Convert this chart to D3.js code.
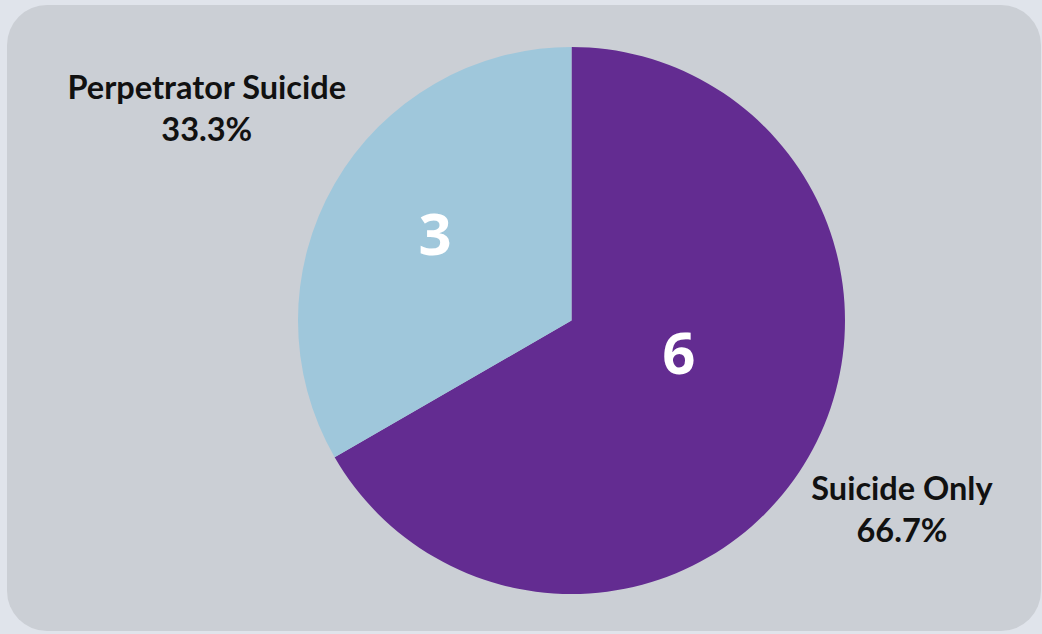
<!DOCTYPE html>
<html>
<head>
<meta charset="utf-8">
<script src="https://cdn.jsdelivr.net/npm/d3@7"></script>
<style>
  body { margin: 0; background: #e0e4eb; }
  svg { display: block; }
</style>
</head>
<body>
<div id="chart"></div>
<script>
const categories = ["Suicide Only", "Perpetrator Suicide"];
const counts = [6, 3];
const colors = ["#632c91", "#9fc7db"];

const width = 1042, height = 634;
const cx = 571.5, cy = 320.5, radius = 273.5;

// label spots, as distance from centre over radius (inside count, outside name)
const countDist = [0.41, 0.59];
const countAngleShift = [-0.23, 0.04];
const nameDist = [1.395, 1.54];

var svg = d3.select("#chart").append("svg")
        .attr("width", width)
        .attr("height", height);

svg.append("rect")
    .attr("x", 7).attr("y", 5)
    .attr("width", 1034).attr("height", 626)
    .attr("rx", 40).attr("ry", 40)
    .attr("fill", "#cbcfd5");

const total = d3.sum(counts);
const pie = d3.pie().sort(null).value(d => d)(counts);
const arc = d3.arc().innerRadius(0).outerRadius(radius);

const g = svg.append("g").attr("transform", `translate(${cx},${cy})`);

g.selectAll("path")
    .data(pie)
    .enter().append("path")
        .attr("d", arc)
        .attr("fill", (d, i) => colors[i]);

function polar(a, r) { return [Math.sin(a) * r, -Math.cos(a) * r]; }

g.selectAll("text.count")
    .data(pie)
    .enter().append("text")
        .attr("class", "count")
        .attr("x", (d, i) => polar((d.startAngle + d.endAngle) / 2 + countAngleShift[i], countDist[i] * radius)[0])
        .attr("y", (d, i) => polar((d.startAngle + d.endAngle) / 2 + countAngleShift[i], countDist[i] * radius)[1])
        .attr("dy", "0.36em")
        .attr("text-anchor", "middle")
        .attr("fill", "#ffffff")
        .style("font-family", "'Open Sans', sans-serif")
        .style("font-weight", "700")
        .style("font-size", "58px")
        .text(d => d.data);

const names = g.selectAll("text.name")
    .data(pie)
    .enter().append("text")
        .attr("class", "name")
        .attr("text-anchor", "middle")
        .attr("fill", "#111111")
        .style("font-family", "Lato, sans-serif")
        .style("font-weight", "700")
        .style("font-size", "32.5px")
        .attr("transform", (d, i) => {
            const p = polar((d.startAngle + d.endAngle) / 2, nameDist[i] * radius);
            return `translate(${p[0]},${p[1]})`;
        });

names.append("tspan")
    .attr("x", 0).attr("y", -11)
    .text((d, i) => categories[i]);
names.append("tspan")
    .attr("x", 0).attr("y", 31)
    .text(d => (d.data / total * 100).toFixed(1) + "%");
</script>
</body>
</html>
